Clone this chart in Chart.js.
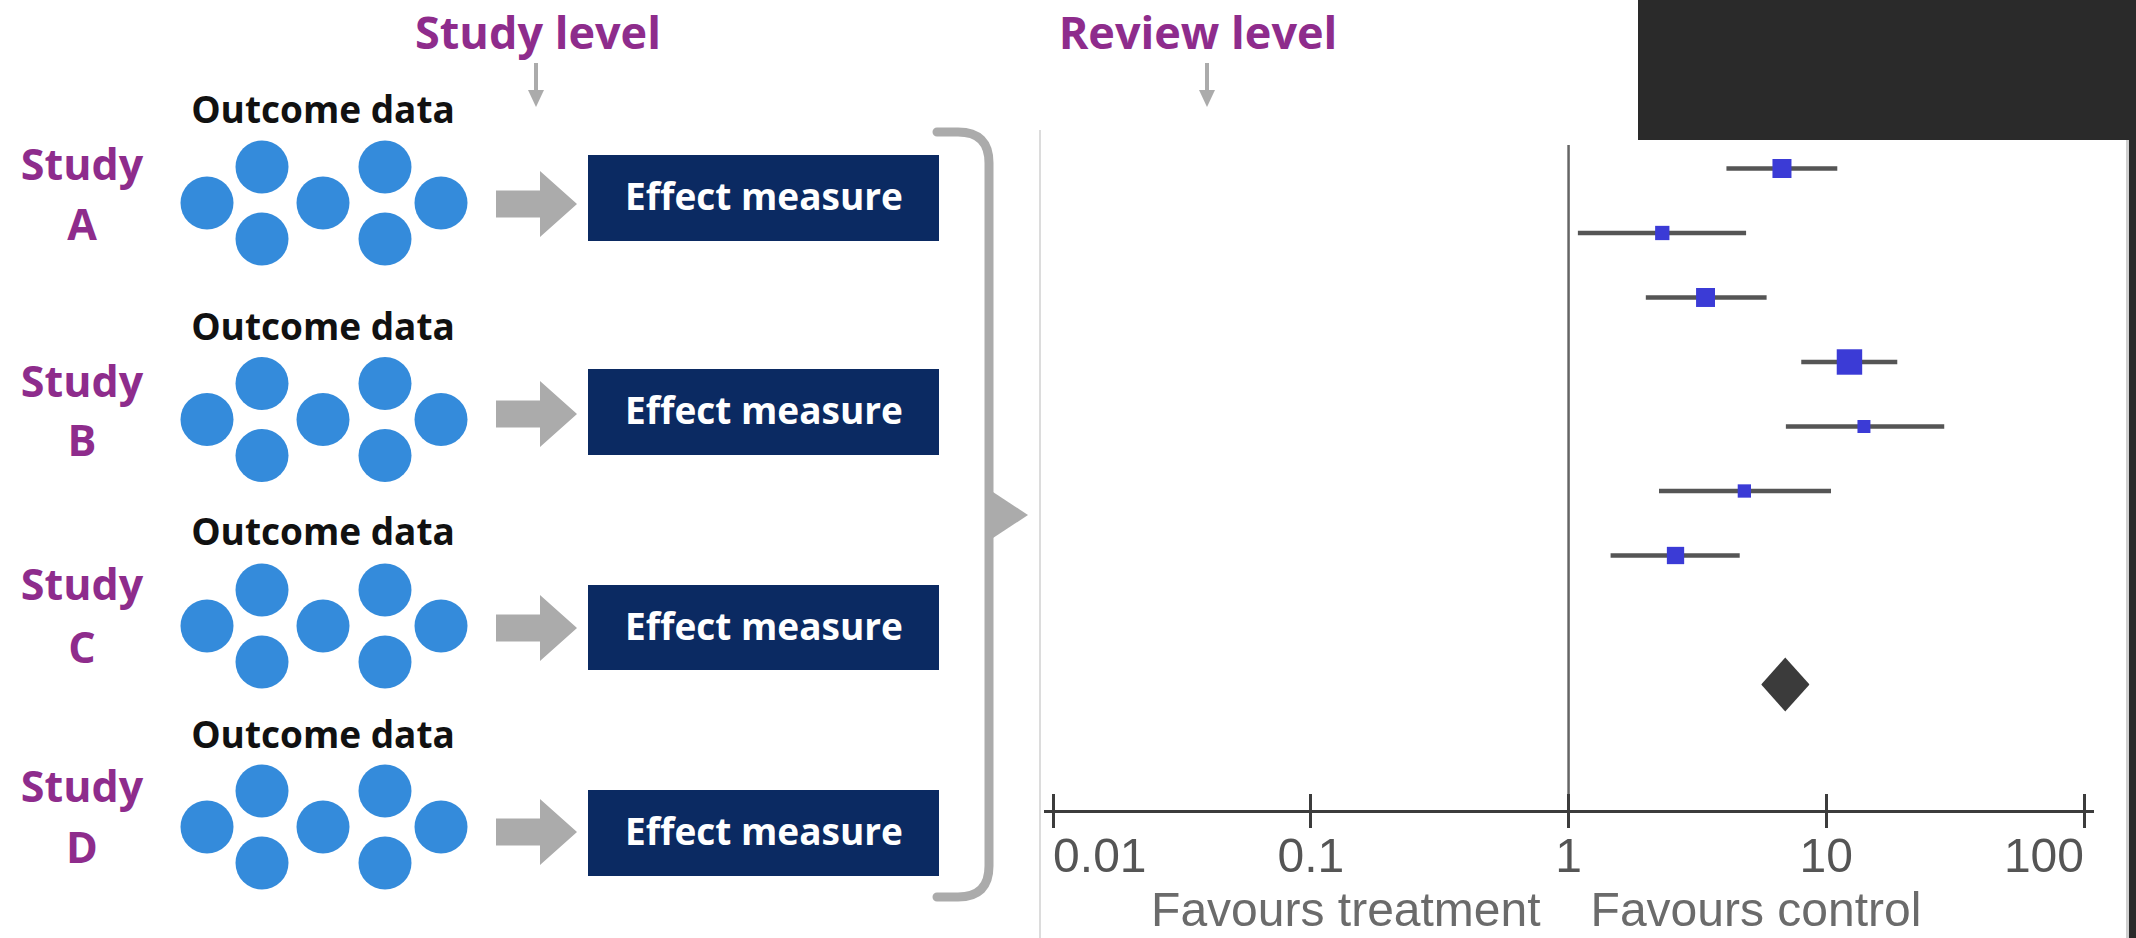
<!DOCTYPE html>
<html>
<head>
<meta charset="utf-8">
<title>From study data to meta-analysis</title>
<script src="https://cdn.jsdelivr.net/npm/chart.js@4/dist/chart.umd.min.js"></script>
<style>
  html, body { margin: 0; padding: 0; background: #ffffff; }
  #stage { position: relative; width: 2136px; height: 938px; overflow: hidden; background: #ffffff; }
  #diagram { position: absolute; left: 0; top: 0; }
  #forest { position: absolute; left: 1042px; top: 132px; }
</style>
</head>
<body>
<div id="stage">
  <svg id="diagram" width="2136" height="938" xmlns="http://www.w3.org/2000/svg"></svg>
  <canvas id="forest" width="1084" height="806"></canvas>
</div>
<script>
// ---- Forest plot data (ratio scale) ----
const STUDY_ROWS   = [1, 2, 3, 4, 5, 6, 7];
const ESTIMATES    = [6.73, 2.31, 3.40, 12.3, 14.0, 4.81, 2.60];
const CI_LOWER     = [4.11, 1.09, 2.00, 8.02, 6.99, 2.25, 1.46];
const CI_UPPER     = [11.0, 4.87, 5.85, 18.8, 28.6, 10.4, 4.60];
const WEIGHTS      = [16.3, 9.2, 16.2, 29.2, 7.6, 8.0, 13.5];   // % weight of each study
const POOLED_ROW   = 9;
const POOLED       = 6.93;
const POOLED_LOWER = 5.59;
const POOLED_UPPER = 8.61;
const NULL_EFFECT  = 1;
const TICK_VALUES  = [0.01, 0.1, 1, 10, 100];
const TICK_LABELS  = ['0.01', '0.1', '1', '10', '100'];
const SIDE_LABELS  = ['Favours treatment', 'Favours control'];

// ---- Diagram text ----
const LEVEL_TITLES  = ['Study level', 'Review level'];
const STUDY_WORD    = 'Study';
const STUDY_LETTERS = ['A', 'B', 'C', 'D'];
const DATA_LABEL    = 'Outcome data';
const BOX_LABEL     = 'Effect measure';

// ---- Layout and styling ----
const PURPLE = '#8e2c8c';
const NAVY = '#0b2a62';
const DOT_BLUE = '#348bdb';
const ARROW_GREY = '#ababab';
const AXIS_COLOR = '#3c3c3c';
const SVG_NS = 'http://www.w3.org/2000/svg';
const BOLD_FONT = '"Open Sans", "Noto Sans", sans-serif';

const X_MIN = 0.0093, X_MAX = 107.4;     // axis line runs a little past the end ticks
const Y_MIN = 0.636, Y_MAX = 10.961;
const DIAMOND_HALF = 0.42;               // half height of the pooled diamond, in rows
const SQUARE_SCALE = 4.71;               // square side per sqrt(weight)

const BLOCKS = [
  { mid: 203,   box: [155, 241], arrow: 204, outcome: 123, study: 180, letter: 240 },
  { mid: 419.5, box: [369, 455], arrow: 414, outcome: 340, study: 397, letter: 456 },
  { mid: 626,   box: [585, 670], arrow: 628, outcome: 545, study: 600, letter: 663 },
  { mid: 827,   box: [790, 876], arrow: 832, outcome: 748, study: 802, letter: 863 }
];
const DOT_SPOTS = [[207, 0], [262, -36], [262, 36], [323, 0], [385, -36], [385, 36], [441, 0]];

const svg = document.getElementById('diagram');
function el(tag, attrs, text) {
  const node = document.createElementNS(SVG_NS, tag);
  for (const k in attrs) node.setAttribute(k, attrs[k]);
  if (text !== undefined) node.textContent = text;
  svg.appendChild(node);
  return node;
}
function label(x, y, text, size, fill, anchor) {
  return el('text', {
    x, y, fill, 'font-family': BOLD_FONT, 'font-weight': 700,
    'font-size': size, 'text-anchor': anchor || 'middle'
  }, text);
}

// top-right backdrop and panel edges
el('rect', { x: 1638, y: 0, width: 498, height: 140, fill: '#2a2a2a' });
el('rect', { x: 2126, y: 140, width: 3, height: 798, fill: '#cfcfcf' });
el('rect', { x: 2129, y: 140, width: 7, height: 798, fill: '#2a2a2a' });
el('line', { x1: 1040, y1: 130, x2: 1040, y2: 938, stroke: '#dcdcdc', 'stroke-width': 2 });

// level titles with small down arrows
[[538, 536], [1198, 1207]].forEach(([tx, ax], i) => {
  label(tx, 49, LEVEL_TITLES[i], 45, PURPLE);
  el('line', { x1: ax, y1: 63, x2: ax, y2: 92, stroke: ARROW_GREY, 'stroke-width': 4 });
  el('polygon', { points: `${ax - 8},90 ${ax + 8},90 ${ax},107`, fill: ARROW_GREY });
});

// one row per study: label, outcome dots, arrow, effect box
BLOCKS.forEach((b, i) => {
  label(82, b.study, STUDY_WORD, 43, PURPLE);
  label(82, b.letter, STUDY_LETTERS[i], 43, PURPLE);
  label(323, b.outcome, DATA_LABEL, 37, '#111111');
  DOT_SPOTS.forEach(([cx, dy]) => el('circle', { cx, cy: b.mid + dy, r: 26.5, fill: DOT_BLUE }));
  const y = b.arrow;
  el('polygon', {
    points: `496,${y - 13.5} 540,${y - 13.5} 540,${y - 33} 577,${y} 540,${y + 33} 540,${y + 13.5} 496,${y + 13.5}`,
    fill: ARROW_GREY
  });
  el('rect', { x: 588, y: b.box[0], width: 351, height: b.box[1] - b.box[0], fill: NAVY });
  label(764, (b.box[0] + b.box[1]) / 2 + 12, BOX_LABEL, 37, '#ffffff');
});

// bracket gathering all studies into the review
el('path', {
  d: 'M 937 132 L 958 132 Q 989 132 989 163 L 989 866 Q 989 897 958 897 L 937 897',
  fill: 'none', stroke: ARROW_GREY, 'stroke-width': 9, 'stroke-linecap': 'round'
});
el('polygon', { points: '993,492 1028,515 993,538', fill: ARROW_GREY });

// ---- Forest plot ----
const axisDecor = {
  id: 'axisDecor',
  afterDraw(chart) {
    const { ctx, chartArea, scales: { x } } = chart;
    ctx.save();
    ctx.strokeStyle = AXIS_COLOR;
    ctx.lineWidth = 3;
    TICK_VALUES.forEach(v => {
      const px = Math.round(x.getPixelForValue(v) - 1.5) + 1.5;
      ctx.beginPath();
      ctx.moveTo(px, chartArea.bottom - 17);
      ctx.lineTo(px, chartArea.bottom + 1);
      ctx.stroke();
    });
    ctx.font = '48px "Liberation Sans", Arial, sans-serif';
    ctx.fillStyle = '#6b6b6b';
    ctx.textBaseline = 'alphabetic';
    const x1 = x.getPixelForValue(NULL_EFFECT);
    ctx.textAlign = 'right';
    ctx.fillText(SIDE_LABELS[0], x1 - 28, chart.height - 12);
    ctx.textAlign = 'left';
    ctx.fillText(SIDE_LABELS[1], x1 + 22, chart.height - 12);
    ctx.restore();
  }
};

new Chart(document.getElementById('forest'), {
  type: 'scatter',
  data: {
    datasets: [
      {
        type: 'line', label: 'No effect',
        data: [{ x: NULL_EFFECT, y: Y_MIN }, { x: NULL_EFFECT, y: Y_MAX }],
        borderColor: '#666666', borderWidth: 2.5, pointRadius: 0, order: 4
      },
      {
        type: 'bar', label: '95% CI', indexAxis: 'y',
        data: STUDY_ROWS.map((r, i) => ({ y: r, x: [CI_LOWER[i], CI_UPPER[i]] })),
        backgroundColor: '#555555', barThickness: 4, borderWidth: 0, borderSkipped: false, order: 3
      },
      {
        type: 'scatter', label: 'Study estimate',
        data: STUDY_ROWS.map((r, i) => ({ x: ESTIMATES[i], y: r })),
        pointStyle: 'rect',
        pointRadius: c => SQUARE_SCALE * Math.sqrt(WEIGHTS[c.dataIndex]) / Math.SQRT2,
        backgroundColor: '#3b3bd6', borderWidth: 0, order: 2
      },
      {
        type: 'line', label: 'Pooled estimate',
        data: [
          { x: POOLED_LOWER, y: POOLED_ROW },
          { x: POOLED, y: POOLED_ROW - DIAMOND_HALF },
          { x: POOLED_UPPER, y: POOLED_ROW }
        ],
        borderWidth: 0, borderColor: 'rgba(0,0,0,0)', pointRadius: 0,
        fill: '+1', backgroundColor: '#3b3b3b', order: 1
      },
      {
        type: 'line', label: 'Pooled estimate (lower edge)',
        data: [
          { x: POOLED_LOWER, y: POOLED_ROW },
          { x: POOLED, y: POOLED_ROW + DIAMOND_HALF },
          { x: POOLED_UPPER, y: POOLED_ROW }
        ],
        borderWidth: 0, borderColor: 'rgba(0,0,0,0)', pointRadius: 0, fill: false, order: 1
      }
    ]
  },
  options: {
    responsive: false,
    animation: false,
    events: [],
    devicePixelRatio: 1,
    layout: { padding: { left: 3, right: 34, top: 13, bottom: 0 }, autoPadding: false },
    plugins: { legend: { display: false }, tooltip: { enabled: false } },
    scales: {
      x: {
        type: 'logarithmic', min: X_MIN, max: X_MAX, beginAtZero: false, offset: false,
        afterBuildTicks: s => { s.ticks = TICK_VALUES.map(v => ({ value: v })); },
        afterFit: s => { s.height = 127; },
        border: { display: true, color: AXIS_COLOR, width: 3 },
        grid: { display: true, offset: false, drawOnChartArea: false, drawTicks: true, tickLength: 17, color: AXIS_COLOR, lineWidth: 3 },
        ticks: {
          autoSkip: false, maxRotation: 0, minRotation: 0, align: 'inner', padding: 2,
          color: '#555555', font: { family: '"Liberation Sans", Arial, sans-serif', size: 48 },
          callback: (v, i) => TICK_LABELS[i]
        }
      },
      y: {
        type: 'linear', reverse: true, min: Y_MIN, max: Y_MAX, display: false,
        offset: false, grid: { offset: false }
      }
    }
  },
  plugins: [axisDecor]
});
</script>
</body>
</html>
